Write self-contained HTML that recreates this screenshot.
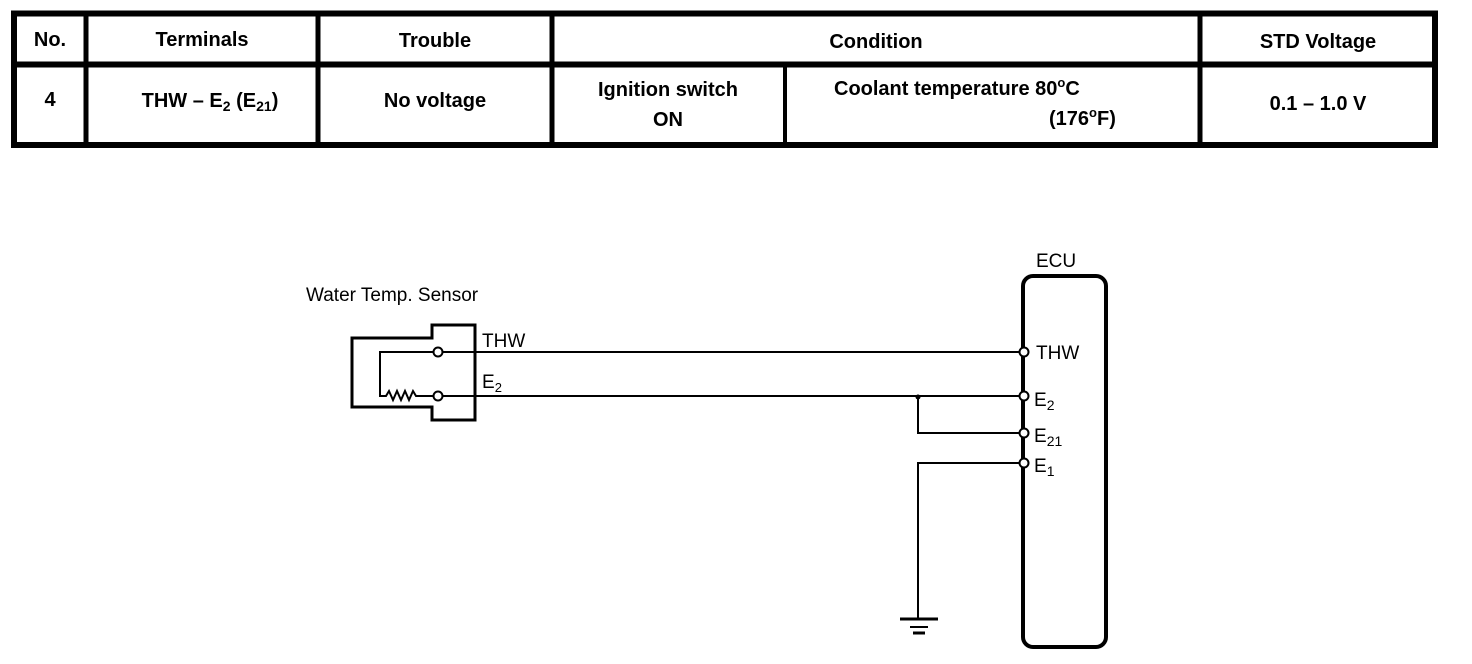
<!DOCTYPE html>
<html><head><meta charset="utf-8"><style>
html,body{margin:0;padding:0;background:#fff;width:1472px;height:664px;overflow:hidden}
svg{display:block}
.t{font-family:"Liberation Sans",sans-serif;font-weight:bold;font-size:20px;fill:#000}
.d{font-family:"Liberation Sans",sans-serif;font-size:19px;fill:#000}
</style></head><body>
<svg width="1472" height="664" viewBox="0 0 1472 664" xmlns="http://www.w3.org/2000/svg">
<g fill="none" stroke="#000">
<rect x="14" y="13.5" width="1421" height="131.5" stroke-width="6"/>
<line x1="14" y1="64.5" x2="1435" y2="64.5" stroke-width="6"/>
<line x1="86" y1="13" x2="86" y2="145" stroke-width="5"/>
<line x1="318" y1="13" x2="318" y2="145" stroke-width="5"/>
<line x1="552" y1="13" x2="552" y2="145" stroke-width="5"/>
<line x1="1200" y1="13" x2="1200" y2="145" stroke-width="5"/>
<line x1="785" y1="66" x2="785" y2="145" stroke-width="4"/>
</g>
<g class="t" text-anchor="middle">
<text x="50" y="46">No.</text>
<text x="202" y="46">Terminals</text>
<text x="435" y="47">Trouble</text>
<text x="876" y="48">Condition</text>
<text x="1318" y="48">STD Voltage</text>
<text x="50" y="106">4</text>
<text x="210" y="107">THW – E<tspan font-size="14" dy="4">2</tspan><tspan dy="-4"> (E</tspan><tspan font-size="14" dy="4">21</tspan><tspan dy="-4">)</tspan></text>
<text x="435" y="107">No voltage</text>
<text x="668" y="96">Ignition switch</text>
<text x="668" y="126">ON</text>
<text x="1318" y="110">0.1 – 1.0 V</text>
</g>
<text class="t" x="834" y="95">Coolant temperature 80<tspan font-size="13" dy="-8">o</tspan><tspan dy="8">C</tspan></text>
<text class="t" x="1049" y="125">(176<tspan font-size="13" dy="-8">o</tspan><tspan dy="8">F)</tspan></text>

<g fill="none" stroke="#000">
<path d="M432,338 V325 H475 V420 H432 V407 H352 V338 Z" stroke-width="3"/>
<path d="M434,352 H380 V396 H386 l3,-5 4,9 4,-9 4,9 4,-9 4,9 4,-9 3,5 H434" stroke-width="2"/>
<line x1="442" y1="352" x2="1020" y2="352" stroke-width="2"/>
<line x1="442" y1="396" x2="1020" y2="396" stroke-width="2"/>
<path d="M918,396 V433 H1020" stroke-width="2"/>
<path d="M1020,463 H918 V619" stroke-width="2"/>
<line x1="900" y1="619" x2="938" y2="619" stroke-width="3"/>
<line x1="910" y1="627" x2="928" y2="627" stroke-width="2"/>
<line x1="913" y1="633" x2="925" y2="633" stroke-width="3"/>
<rect x="1023" y="276" width="83" height="371" rx="10" stroke-width="4"/>
<g fill="#fff" stroke-width="2">
<circle cx="438" cy="352" r="4.5"/><circle cx="438" cy="396" r="4.5"/>
<circle cx="1024" cy="352" r="4.5"/><circle cx="1024" cy="396" r="4.5"/>
<circle cx="1024" cy="433" r="4.5"/><circle cx="1024" cy="463" r="4.5"/>
</g>
</g>
<circle cx="918" cy="397" r="2.5" fill="#000"/>
<text class="d" x="306" y="301">Water Temp. Sensor</text>
<text class="d" x="482" y="347">THW</text>
<text class="d" x="482" y="388">E<tspan font-size="13" dy="4">2</tspan></text>
<text class="d" x="1036" y="267">ECU</text>
<text class="d" x="1036" y="359" font-size="20">THW</text>
<text class="d" x="1034" y="406" font-size="20">E<tspan font-size="14" dy="4">2</tspan></text>
<text class="d" x="1034" y="442" font-size="20">E<tspan font-size="14" dy="4">21</tspan></text>
<text class="d" x="1034" y="472" font-size="20">E<tspan font-size="14" dy="4">1</tspan></text>
</svg>
</body></html>
